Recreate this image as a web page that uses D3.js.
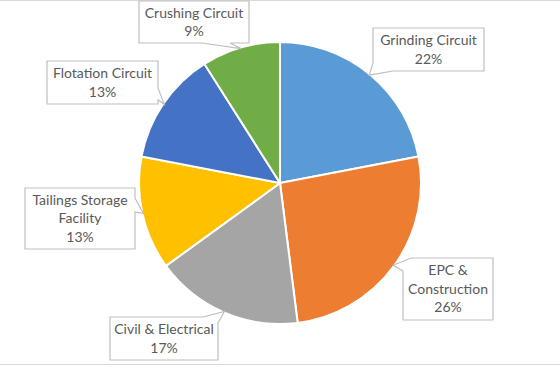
<!DOCTYPE html>
<html><head><meta charset="utf-8">
<script src="https://cdn.jsdelivr.net/npm/d3@7"></script>
<style>html,body{margin:0;padding:0;background:#fff;}svg{display:block;}</style>
</head><body><svg id="c" width="560" height="366"></svg>
<script>
const categories = ["Grinding Circuit","EPC & Construction","Civil & Electrical","Tailings Storage Facility","Flotation Circuit","Crushing Circuit"];
const values = [22, 26, 17, 13, 13, 9];
const labelLines = [["Grinding Circuit","22%"],["EPC &","Construction","26%"],["Civil & Electrical","17%"],["Tailings Storage","Facility","13%"],["Flotation Circuit","13%"],["Crushing Circuit","9%"]];
const colors = ["#5B9BD5","#ED7D31","#A5A5A5","#FFC000","#4472C4","#70AD47"];

// layout: callout boxes [x, y, w, h] and wedge base points on the box edge
const boxes = [
  {x:373, y:28, w:111, h:43, b1:[393,71], b2:[373,63]},
  {x:403, y:258, w:90, h:62, b1:[403,271], b2:[411,258]},
  {x:110, y:317, w:108, h:43, b1:[203,317], b2:[218,323]},
  {x:25, y:188, w:110, h:61, b1:[135,198], b2:[135,212]},
  {x:47, y:61, w:111, h:43, b1:[158,88], b2:[158,100]},
  {x:139, y:1, w:110, h:42, b1:[230,43], b2:[202,43]}
];

const svg = d3.select("#c");
const cx = 280, cy = 183, R = 141;

svg.append("line").attr("x1",0).attr("x2",560).attr("y1",0.5).attr("y2",0.5).attr("stroke","#d9d9d9");
svg.append("line").attr("x1",0).attr("x2",560).attr("y1",364.5).attr("y2",364.5).attr("stroke","#d9d9d9");

const pie = d3.pie().sort(null).value(d => d).startAngle(0).endAngle(2*Math.PI);
const arcs = pie(values);
const arc = d3.arc().innerRadius(0).outerRadius(R);
const g = svg.append("g").attr("transform", `translate(${cx},${cy})`);
g.selectAll("path").data(arcs).join("path")
  .attr("d", arc).attr("fill", (d,i) => colors[i])
  .attr("stroke", "#fff").attr("stroke-width", 2).attr("stroke-linejoin","round");

function perim(b, p) {
  const x0=b.x, y0=b.y, x1=b.x+b.w, y1=b.y+b.h, w=b.w, h=b.h;
  const [x,y] = p;
  if (Math.abs(y-y0) < 0.5) return x - x0;
  if (Math.abs(x-x1) < 0.5) return w + (y - y0);
  if (Math.abs(y-y1) < 0.5) return w + h + (x1 - x);
  return 2*w + h + (y1 - y);
}

arcs.forEach((a, i) => {
  const b = boxes[i];
  const mid = (a.startAngle + a.endAngle) / 2;
  const tip = [cx + (R-1)*Math.sin(mid), cy - (R-1)*Math.cos(mid)];
  const P = 2*b.w + 2*b.h;
  const corners = [[b.x,b.y,0],[b.x+b.w,b.y,b.w],[b.x+b.w,b.y+b.h,b.w+b.h],[b.x,b.y+b.h,2*b.w+b.h]];
  const s1 = perim(b, b.b1), s2 = perim(b, b.b2);
  const span = ((s1 - s2) % P + P) % P;
  const rest = corners.map(c => ({pt:[c[0],c[1]], t:((c[2]-s2)%P+P)%P}))
    .filter(c => c.t < span).sort((u,v) => u.t - v.t).map(c => c.pt);
  const pts = [b.b1, tip, b.b2, ...rest];
  svg.append("path")
    .attr("d", "M" + pts.map(p => p.join(",")).join("L") + "Z")
    .attr("fill", "#fff").attr("stroke", "#bfbfbf").attr("stroke-width", 1.2);
  const lines = labelLines[i];
  const lh = 18.5;
  const tx = b.x + b.w/2;
  const ty0 = b.y + b.h/2 - (lines.length-1)*lh/2;
  const t = svg.append("text").attr("text-anchor","middle")
    .attr("font-family","Lato, 'Open Sans', sans-serif").attr("font-size","14px").attr("fill","#595959");
  lines.forEach((ln, k) => {
    t.append("tspan").attr("x", tx).attr("y", ty0 + k*lh).attr("dy","0.35em").text(ln);
  });
});
</script></body></html>
